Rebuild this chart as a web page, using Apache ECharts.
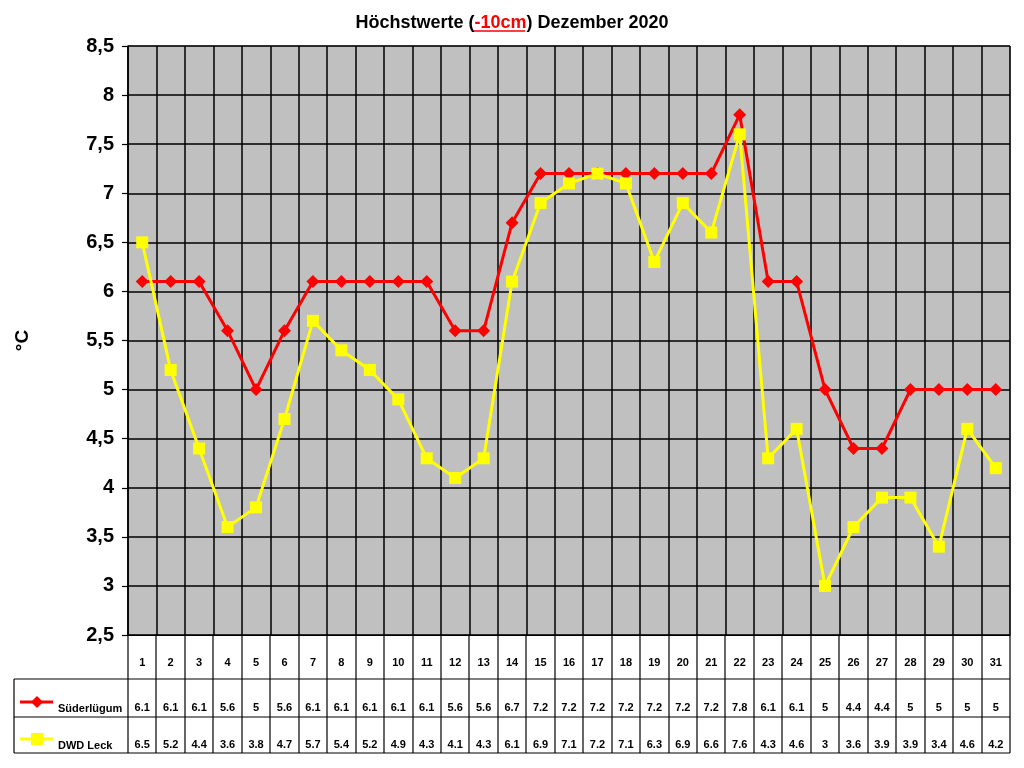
<!DOCTYPE html>
<html>
<head>
<meta charset="utf-8">
<script src="https://cdn.jsdelivr.net/npm/echarts@6/dist/echarts.min.js"></script>
<style>
  html, body { margin: 0; padding: 0; background: #fff; }
  #chart { width: 1024px; height: 768px; }
</style>
</head>
<body>
<div id="chart"></div>
<script>
// Daily maximum temperature at -10cm, December 2020
var days = ['1','2','3','4','5','6','7','8','9','10','11','12','13','14','15','16',
  '17','18','19','20','21','22','23','24','25','26','27','28','29','30','31'];
var suederluegum = [6.1, 6.1, 6.1, 5.6, 5, 5.6, 6.1, 6.1, 6.1, 6.1, 6.1, 5.6, 5.6, 6.7, 7.2, 7.2,
  7.2, 7.2, 7.2, 7.2, 7.2, 7.8, 6.1, 6.1, 5, 4.4, 4.4, 5, 5, 5, 5];
var dwdLeck = [6.5, 5.2, 4.4, 3.6, 3.8, 4.7, 5.7, 5.4, 5.2, 4.9, 4.3, 4.1, 4.3, 6.1, 6.9, 7.1,
  7.2, 7.1, 6.3, 6.9, 6.6, 7.6, 4.3, 4.6, 3, 3.6, 3.9, 3.9, 3.4, 4.6, 4.2];
var yTicks = { min: 2.5, max: 8.5, step: 0.5 };

var chartDom = document.getElementById('chart');
var chart = echarts.init(chartDom);

// plot area in pixels
var G = { left: 128, right: 1010, top: 46, bottom: 635 };
var tableRows = [679, 717, 753];
var font = 'Arial, "Liberation Sans", sans-serif';

function tableAxis(values, margin) {
  return {
    type: 'category',
    data: values.map(function (v) { return String(v); }),
    position: 'bottom',
    axisLine: { show: false },
    axisTick: { show: false },
    splitLine: { show: false },
    axisLabel: { interval: 0, margin: margin, fontFamily: font, fontWeight: 'bold', fontSize: 11, color: '#000' }
  };
}

// table lines
var graphics = [];
var colW = (G.right - G.left) / days.length;
for (var i = 0; i <= days.length; i++) {
  var x = Math.round(G.left + i * colW);
  graphics.push({ type: 'line', shape: { x1: x, y1: G.bottom, x2: x, y2: tableRows[2] },
    style: { stroke: '#000', lineWidth: 1.2 } });
}
tableRows.forEach(function (y) {
  graphics.push({ type: 'line', shape: { x1: 14, y1: y, x2: G.right, y2: y },
    style: { stroke: '#000', lineWidth: 1.2 } });
});
graphics.push({ type: 'line', shape: { x1: 14, y1: tableRows[0], x2: 14, y2: tableRows[2] },
  style: { stroke: '#000', lineWidth: 1.2 } });

// legend keys inside the table
function legendKey(y, textY, color, symbol, name) {
  graphics.push({ type: 'line', shape: { x1: 20, y1: y, x2: 53, y2: y },
    style: { stroke: color, lineWidth: 3 } });
  if (symbol === 'diamond') {
    graphics.push({ type: 'polygon', shape: { points: [[37, y - 6], [43, y], [37, y + 6], [31, y]] },
      style: { fill: color } });
  } else {
    graphics.push({ type: 'rect', shape: { x: 31, y: y - 6, width: 12, height: 12 },
      style: { fill: color } });
  }
  graphics.push({ type: 'text', x: 58, y: textY,
    style: { text: name, font: 'bold 11px ' + font, fill: '#000', textVerticalAlign: 'middle' } });
}
legendKey(702, 709, '#ff0000', 'diamond', 'Süderlügum');
legendKey(739, 746, '#ffff00', 'rect', 'DWD Leck');

// underline of the red part of the title
graphics.push({ type: 'line', shape: { x1: 473, y1: 31, x2: 525, y2: 31 },
  style: { stroke: '#ff0000', lineWidth: 1.5 } });

var option = {
  animation: false,
  backgroundColor: '#fff',
  title: {
    text: '{b|Höchstwerte (}{r|-10cm}{b|) Dezember 2020}',
    left: 'center',
    top: 9,
    textStyle: {
      rich: {
        b: { fontFamily: font, fontWeight: 'bold', fontSize: 18, color: '#000' },
        r: { fontFamily: font, fontWeight: 'bold', fontSize: 18, color: '#ff0000' }
      }
    }
  },
  grid: {
    left: G.left, right: 1024 - G.right, top: G.top, bottom: 768 - G.bottom,
    show: true, backgroundColor: '#c0c0c0', borderColor: '#808080', borderWidth: 1
  },
  xAxis: [
    {
      type: 'category',
      data: days,
      boundaryGap: true,
      axisLine: { lineStyle: { color: '#000', width: 1.2 } },
      axisTick: { show: false },
      splitLine: { show: true, interval: 0, lineStyle: { color: '#000', width: 1.5 } },
      axisLabel: { interval: 0, margin: 22, fontFamily: font, fontWeight: 'bold', fontSize: 11, color: '#000' }
    },
    tableAxis(suederluegum, 67),
    tableAxis(dwdLeck, 104)
  ],
  yAxis: {
    type: 'value',
    min: yTicks.min,
    max: yTicks.max,
    interval: yTicks.step,
    name: '°C',
    nameLocation: 'middle',
    nameGap: 96,
    nameTextStyle: { fontFamily: font, fontWeight: 'bold', fontSize: 19, color: '#000' },
    axisLine: { show: true, lineStyle: { color: '#000', width: 1.5 } },
    axisTick: { show: true, length: 6, lineStyle: { color: '#000', width: 1.2 } },
    splitLine: { show: true, lineStyle: { color: '#000', width: 1.5 } },
    axisLabel: {
      margin: 14,
      fontFamily: font, fontWeight: 'bold', fontSize: 20, color: '#000',
      formatter: function (v) { return String(v).replace('.', ','); }
    }
  },
  series: [
    {
      name: 'Süderlügum',
      type: 'line',
      data: suederluegum,
      symbol: 'diamond',
      symbolSize: 13,
      lineStyle: { color: '#ff0000', width: 3 },
      itemStyle: { color: '#ff0000' }
    },
    {
      name: 'DWD Leck',
      type: 'line',
      data: dwdLeck,
      symbol: 'rect',
      symbolSize: 12,
      lineStyle: { color: '#ffff00', width: 3 },
      itemStyle: { color: '#ffff00' }
    }
  ],
  graphic: graphics
};

option && chart.setOption(option);
</script>
</body>
</html>
